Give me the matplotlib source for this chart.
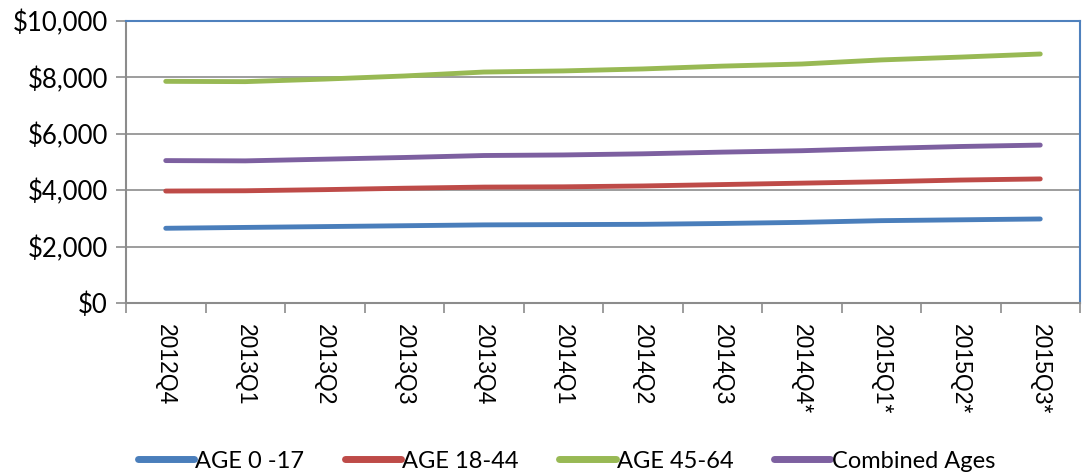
import matplotlib
matplotlib.use("Agg")
import matplotlib.pyplot as plt
from matplotlib.ticker import FuncFormatter, FixedLocator, NullFormatter
import numpy as np

plt.rcParams["font.family"] = ["Liberation Sans", "DejaVu Sans"]

categories = ["2012Q4", "2013Q1", "2013Q2", "2013Q3", "2013Q4", "2014Q1",
              "2014Q2", "2014Q3", "2014Q4*", "2015Q1*", "2015Q2*", "2015Q3*"]
age_0_17 = [2650, 2680, 2710, 2740, 2770, 2780, 2790, 2820, 2860, 2920, 2950, 2980]
age_18_44 = [3970, 3980, 4020, 4070, 4110, 4120, 4150, 4200, 4250, 4300, 4360, 4400]
age_45_64 = [7860, 7850, 7940, 8050, 8190, 8230, 8300, 8400, 8475, 8620, 8720, 8830]
combined = [5050, 5040, 5100, 5160, 5230, 5250, 5290, 5350, 5400, 5480, 5550, 5600]
series_names = ["AGE 0 -17", "AGE 18-44", "AGE 45-64", "Combined Ages"]
colors = ["#4a7ebb", "#be4b48", "#98b954", "#7d60a0"]

fig = plt.figure(figsize=(10.89, 4.73), dpi=100)
ax = fig.add_axes([126/1089, 1-303/473, (1080-126)/1089, (303-21)/473])

x = np.arange(len(categories))
for vals, name, c in zip([age_0_17, age_18_44, age_45_64, combined], series_names, colors):
    ax.plot(x, vals, color=c, lw=3.5, solid_capstyle="round", label=name, zorder=3)

ax.set_xlim(-0.5, len(categories) - 0.5)
ax.set_ylim(0, 10000)
ax.set_yticks(np.arange(0, 10001, 2000))
ax.yaxis.set_major_formatter(FuncFormatter(lambda v, p: "${:,.0f}".format(v)))
ax.grid(axis="y", color="#8c8c8c", lw=1.2, zorder=1)

ax.xaxis.set_major_locator(FixedLocator(np.arange(-0.5, len(categories), 1.0)))
ax.xaxis.set_major_formatter(NullFormatter())
ax.set_xticks(x, categories, minor=True, rotation=-90, va="top", ha="center",
              fontfamily="Liberation Sans", fontsize=16.5)
ax.tick_params(axis="x", which="minor", length=0, pad=15)
ax.tick_params(axis="x", which="major", length=7, color="#8c8c8c", width=1.2, direction="out")
ax.tick_params(axis="y", length=7, color="#8c8c8c", width=1.2, direction="out", pad=6,
               labelfontfamily="Lato", labelsize=18.5)

for s in ["left", "bottom"]:
    ax.spines[s].set_color("#8c8c8c")
    ax.spines[s].set_linewidth(1.5)
for s in ["top", "right"]:
    ax.spines[s].set_color("#4f81bd")
    ax.spines[s].set_linewidth(1.5)

leg = fig.legend(loc="center", bbox_to_anchor=(0.52, 1 - 461/473), ncol=4, frameon=False,
                 prop={"family": "Lato", "size": 17}, handlelength=2.4,
                 handletextpad=0.05, columnspacing=1.7)
for h in leg.get_lines():
    h.set_linewidth(5)
    h.set_solid_capstyle("round")

fig.savefig("out.png", dpi=100)
